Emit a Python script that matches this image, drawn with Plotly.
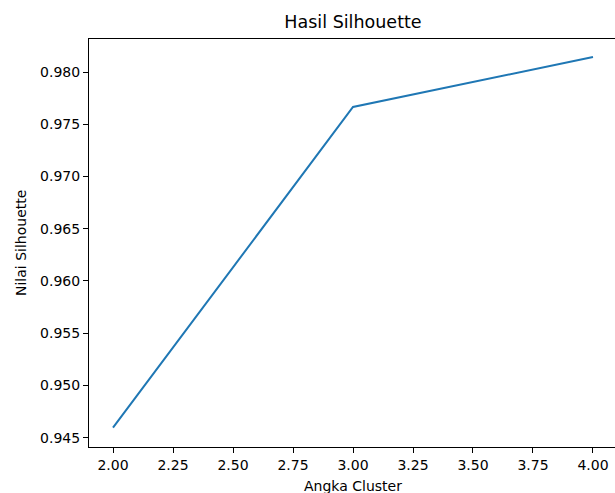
import plotly.graph_objects as go

clusters = [2, 3, 4]
silhouette = [0.94596, 0.97665, 0.98143]

title = "Hasil Silhouette"
x_label = "Angka Cluster"
y_label = "Nilai Silhouette"

font = "DejaVu Sans"

W, H = 615, 493
L, T, B = 89, 39, 46

fig = go.Figure()
fig.add_trace(go.Scatter(x=clusters, y=silhouette, mode="lines",
                         line=dict(color="#1f77b4", width=2)))

fig.update_layout(
    width=W, height=H,
    margin=dict(l=L, r=0, t=T, b=B),
    plot_bgcolor="white", paper_bgcolor="white",
    showlegend=False,
    font=dict(family=font, size=14, color="black"),
    title=dict(text=title, x=353/W, xanchor="center", y=1-22/H, yanchor="middle",
               font=dict(size=17.5, family=font, color="black")),
)
fig.update_xaxes(range=[1.9, 4.0917], tickmode="linear", tick0=2, dtick=0.25,
                 tickformat=".2f", showgrid=False, zeroline=False,
                 showline=True, linecolor="black", linewidth=1, mirror=True,
                 ticks="outside", ticklen=5, tickcolor="black", tickwidth=1,
                 tickfont=dict(size=14))
fig.update_yaxes(range=[0.94411, 0.98316], tickmode="linear", tick0=0.945, dtick=0.005,
                 tickformat=".3f", showgrid=False, zeroline=False,
                 showline=True, linecolor="black", linewidth=1,
                 ticks="outside", ticklen=5, tickcolor="black", tickwidth=1,
                 tickfont=dict(size=14))

fig.add_annotation(text=x_label, xref="paper", yref="paper", x=(353-L)/(W-L), y=0,
                   yshift=-39, xanchor="center", yanchor="middle", showarrow=False,
                   font=dict(size=14, family=font, color="black"))
fig.add_annotation(text=y_label, xref="paper", yref="paper", x=0, y=0.5,
                   xshift=-(L-21), xanchor="center", yanchor="middle", textangle=-90,
                   showarrow=False, font=dict(size=14, family=font, color="black"))

fig.write_html(
    "out.html",
    config={"displayModeBar": False},
    post_script=(
        "document.body.style.margin='0';"
        "document.body.style.overflow='hidden';"
        "document.documentElement.style.overflow='hidden';"
    ),
)
